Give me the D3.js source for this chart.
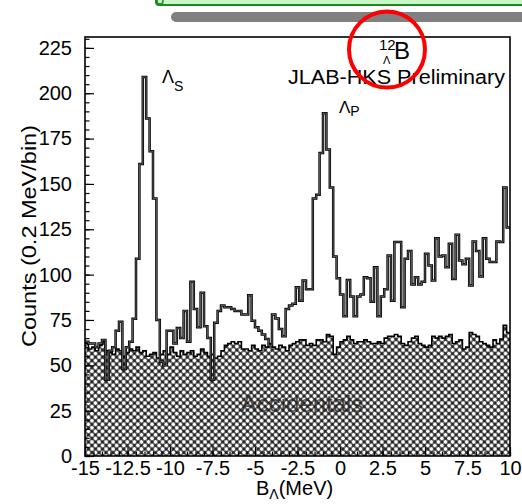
<!DOCTYPE html>
<html><head><meta charset="utf-8">
<script src="https://cdn.jsdelivr.net/npm/d3@7"></script>
<style>
body{margin:0;background:#fff}
svg{display:block}
text{font-family:"Liberation Sans",Arial,Helvetica,sans-serif;fill:#000}
</style>
</head><body>
<svg id="chart" width="522" height="504"></svg>
<script>
// ---- data (0.2 MeV bins from -15 to 10 MeV) ----
const binLow = -15;
const binWidth = 0.2;
const signalCounts = [
  63, 62, 62, 60, 62, 64, 42, 58, 60, 69,
  74, 48, 60, 63, 75.6, 108.7, 161, 209, 186, 168,
  142, 75, 52, 50, 69, 69, 62, 70.5, 65, 80,
  63, 96, 81, 71, 90, 71.5, 65, 42, 73.5, 80,
  83, 82, 82, 81, 80, 80, 78, 78, 88.6, 74.6,
  71, 69, 67, 64.5, 61, 78, 75.8, 70, 66, 81,
  83, 84, 93, 85.6, 96.7, 92, 92, 142, 144, 167,
  189, 169, 148, 110, 98, 89, 77, 97, 88, 77,
  88, 89, 98.5, 98, 85, 104, 77, 88, 92, 110.6,
  85.6, 118, 118, 82, 108.7, 113, 94.5, 98.6, 94.5, 96,
  111.5, 105, 96.8, 120, 110, 110.6, 104, 117, 97.6, 122,
  107.8, 105.7, 108.7, 94, 118.3, 113, 99, 120, 108.7, 107,
  107, 118.3, 118, 148, 126
];
const accidentalCounts = [
  62, 59, 60, 58, 61, 63, 58, 57, 56, 59,
  58, 55, 57, 59, 58, 60, 57, 58, 55, 56,
  57, 54, 56, 58, 56, 60, 57, 55, 58, 56,
  57, 58, 55, 56, 59, 57, 55, 56, 54, 55,
  58, 61, 62, 63, 62, 63, 59, 59, 58, 61,
  59, 58, 61, 60, 62, 60, 59, 61, 60, 58,
  61, 62, 63, 64, 64, 61, 62, 61, 64, 64,
  63, 67, 66, 56, 60, 63, 64, 66, 64, 62,
  63, 63, 64, 63, 62, 62, 63, 62, 65, 66,
  66, 67, 66, 62, 61, 63, 65, 66, 62, 61,
  60, 61, 66, 65, 66, 65, 66, 67, 62, 63,
  64, 59, 60, 68, 67, 66, 63, 62, 61, 60,
  64, 62, 64.5, 72, 68
];
const xTickValues = [-15, -12.5, -10, -7.5, -5, -2.5, 0, 2.5, 5, 7.5, 10];
const xTickLabels = ["-15", "-12.5", "-10", "-7.5", "-5", "-2.5", "0", "2.5", "5", "7.5", "10"];
const yTickValues = [0, 25, 50, 75, 100, 125, 150, 175, 200, 225];
const yTickLabels = ["0", "25", "50", "75", "100", "125", "150", "175", "200", "225"];

// ---- layout ----
const svg = d3.select("#chart");
const L = 85, R = 510, T = 37, B = 456;
const x = d3.scaleLinear().domain([-15, 10]).range([L, R]);
const y = d3.scaleLinear().domain([0, 231]).range([B, T]);

function stepData(vals) {
  const pts = vals.map((v, i) => ({e: binLow + i * binWidth, v}));
  pts.push({e: binLow + vals.length * binWidth, v: vals[vals.length - 1]});
  return pts;
}

// pattern for accidentals
const defs = svg.append("defs");
const pat = defs.append("pattern").attr("id", "hatch")
  .attr("patternUnits", "userSpaceOnUse").attr("width", 5).attr("height", 5)
  .attr("patternTransform", "rotate(45)");
pat.append("rect").attr("width", 5).attr("height", 5).attr("fill", "#222");
pat.append("circle").attr("cx", 2.5).attr("cy", 2.5).attr("r", 2.0).attr("fill", "#fff");
defs.append("clipPath").attr("id", "clip").append("rect")
  .attr("x", L).attr("y", T).attr("width", R - L).attr("height", B - T);

// top decorations
svg.append("rect").attr("x", 171).attr("y", 12).attr("width", 360).attr("height", 10)
  .attr("rx", 5).attr("fill", "#808080");
svg.append("rect").attr("x", 156).attr("y", -4).attr("width", 372).attr("height", 9)
  .attr("rx", 3).attr("fill", "#c8f7c8").attr("stroke", "#1f8a1f").attr("stroke-width", 2);
svg.append("circle").attr("cx", 160).attr("cy", 1).attr("r", 3)
  .attr("fill", "none").attr("stroke", "#1f8a1f").attr("stroke-width", 1.5);

const g = svg.append("g").attr("clip-path", "url(#clip)");

// accidentals
const sd = stepData(accidentalCounts);
g.append("path").datum(sd)
  .attr("d", d3.area().curve(d3.curveStepAfter).x(d => x(d.e)).y0(y(0)).y1(d => y(d.v)))
  .attr("fill", "url(#hatch)");
g.append("path").datum(sd)
  .attr("d", d3.line().curve(d3.curveStepAfter).x(d => x(d.e)).y(d => y(d.v)))
  .attr("fill", "none").attr("stroke", "#000").attr("stroke-width", 1.6);

// Accidentals label
svg.append("text").attr("x", 302).attr("y", 412).attr("text-anchor", "middle")
  .attr("font-size", 24).style("fill", "#2a2a2a").style("opacity", 0.8).text("Accidentals");

// signal
const ss = stepData(signalCounts);
const sLine = d3.line().curve(d3.curveStepAfter).x(d => x(d.e)).y(d => y(d.v));
g.append("path").datum(ss).attr("d", sLine)
  .attr("fill", "none").attr("stroke", "#000").attr("stroke-width", 2.5);
g.append("path").datum(ss).attr("d", sLine)
  .attr("fill", "none").attr("stroke", "#999").attr("stroke-width", 0.6);

// axes
const yAxis = d3.axisLeft(y).tickValues(yTickValues).tickSize(-9).tickPadding(13)
  .tickFormat((d, i) => yTickLabels[i]);
const yMinor = d3.axisLeft(y).tickValues(d3.range(0, 231, 5)).tickSize(-4.5).tickFormat("");
const xAxis = d3.axisBottom(x).tickValues(xTickValues).tickSize(-9).tickPadding(5)
  .tickFormat((d, i) => xTickLabels[i]);
const xMinor = d3.axisBottom(x).tickValues(d3.range(-15, 10.01, 0.5)).tickSize(-4.5).tickFormat("");

function styleAxis(sel) {
  sel.select(".domain").remove();
  sel.selectAll("line").attr("stroke", "#000").attr("stroke-width", 1.2);
  sel.selectAll("text").attr("font-size", 20).attr("font-family", "Liberation Sans, Arial, sans-serif").attr("fill", "#000");
}
svg.append("g").attr("transform", `translate(${L},0)`).call(yMinor).call(styleAxis);
svg.append("g").attr("transform", `translate(${L},0)`).call(yAxis).call(styleAxis);
svg.append("g").attr("transform", `translate(0,${B})`).call(xMinor).call(styleAxis);
svg.append("g").attr("transform", `translate(0,${B})`).call(xAxis).call(styleAxis);

// frame
svg.append("rect").attr("x", L).attr("y", T).attr("width", R - L).attr("height", B - T)
  .attr("fill", "none").attr("stroke", "#000").attr("stroke-width", 1.6);

// axis titles
svg.append("text").attr("transform", "translate(36,236) rotate(-90)")
  .attr("text-anchor", "middle").attr("font-size", 20)
  .attr("textLength", 222).attr("lengthAdjust", "spacingAndGlyphs")
  .text("Counts (0.2 MeV/bin)");
const xt = svg.append("text").attr("x", 256).attr("y", 495).attr("font-size", 20);
xt.append("tspan").text("B");
xt.append("tspan").attr("font-size", 14).attr("dy", 4).text("Λ");
xt.append("tspan").attr("dy", -4).text("(MeV)");

// annotations
svg.append("text").attr("x", 288).attr("y", 84).attr("font-size", 20)
  .attr("textLength", 217).attr("lengthAdjust", "spacingAndGlyphs").text("JLAB-HKS Preliminary");
svg.append("text").attr("x", 379).attr("y", 50).attr("font-size", 15).text("12");
svg.append("text").attr("x", 394).attr("y", 59).attr("font-size", 24).text("B");
svg.append("text").attr("x", 383).attr("y", 64).attr("font-size", 11).text("Λ");

const ls = svg.append("text").attr("x", 162).attr("y", 83).attr("font-size", 18);
ls.append("tspan").text("Λ");
ls.append("tspan").attr("font-size", 14).attr("dy", 8).text("S");
const lp = svg.append("text").attr("x", 339).attr("y", 113).attr("font-size", 17);
lp.append("tspan").text("Λ");
lp.append("tspan").attr("font-size", 14).attr("dy", 3).text("P");

// red circle
svg.append("circle").attr("cx", 387).attr("cy", 49.5).attr("r", 38)
  .attr("fill", "none").attr("stroke", "#f00").attr("stroke-width", 4);
</script>
</body></html>
